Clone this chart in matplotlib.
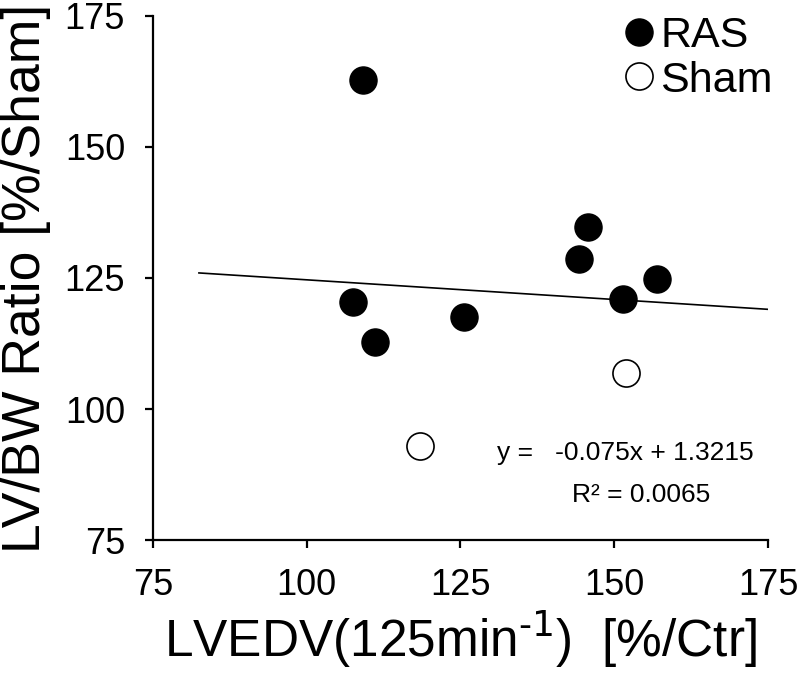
import numpy as np
import matplotlib
matplotlib.use("Agg")
import matplotlib.pyplot as plt

plt.rcParams['font.family'] = ['Liberation Sans', 'DejaVu Sans']

# RAS group
ras_x = [109.1, 107.5, 111.1, 125.6, 144.3, 145.7, 151.4, 157.0]
ras_y = [162.8, 120.4, 112.8, 117.6, 128.6, 134.7, 121.0, 124.8]
# Sham group
sham_x = [118.4, 151.9]
sham_y = [92.9, 106.9]

# linear trend (percent units)
fit_slope = -0.075
fit_icpt = 132.15
fit_xrange = [82.5, 175]

fig = plt.figure(figsize=(8, 6.83), dpi=100)
ax = fig.add_axes([0.191, 0.209, 0.769, 0.768])

fx = np.array(fit_xrange)
ax.plot(fx, fit_slope*fx + fit_icpt, color='black', lw=1.2, zorder=1)
ax.plot(ras_x, ras_y, 'o', color='black', ms=19.5, label='RAS', zorder=3)
ax.plot(sham_x, sham_y, 'o', mfc='white', mec='black', mew=1.2, ms=19.5, label='Sham', zorder=3)

ax.set_xlim(75, 175)
ax.set_ylim(75, 175)
ax.set_xticks([75, 100, 125, 150, 175])
ax.set_yticks([75, 100, 125, 150, 175])
ax.spines['top'].set_visible(False)
ax.spines['right'].set_visible(False)
for s in ['left', 'bottom']:
    ax.spines[s].set_linewidth(1.6)
ax.tick_params(direction='out', length=6, width=1.6, labelsize=26, pad=14)

ax.set_xlabel(r'LVEDV(125min$^{\text{-1}}$)  [%/Ctr]', fontsize=37, labelpad=4)
ax.set_ylabel('LV/BW Ratio [%/Sham]', fontsize=38.5, labelpad=10)

ax.text(0.559, 0.153, 'y =   -0.075x + 1.3215', transform=ax.transAxes, fontsize=19)
ax.text(0.681, 0.073, 'R² = 0.0065', transform=ax.transAxes, fontsize=19)

ax.legend(loc='upper left', bbox_to_anchor=(0.713, 1.04), frameon=False, fontsize=31,
          handletextpad=-0.1, labelspacing=0.1, borderpad=0, handlelength=1.2)

fig.savefig('out.png', dpi=100)
